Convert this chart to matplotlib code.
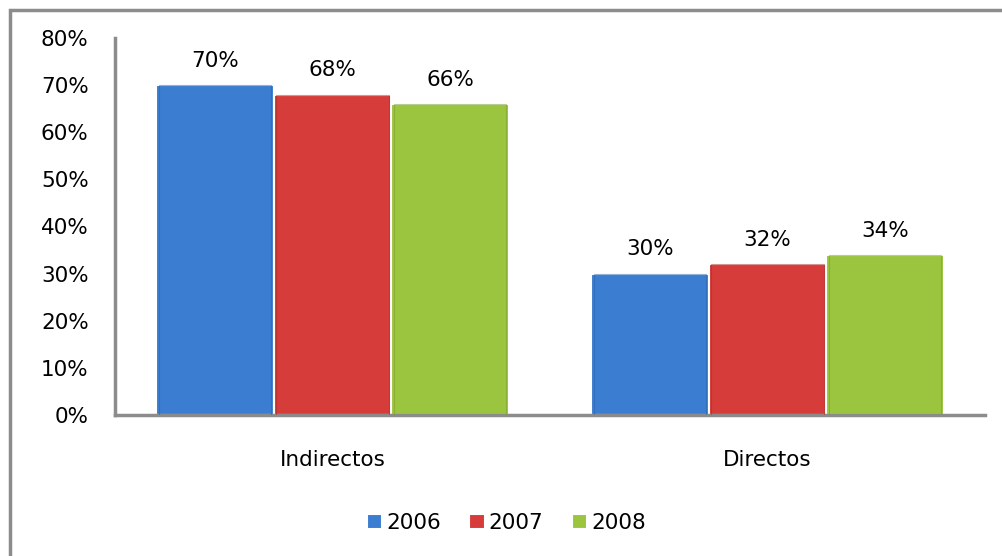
import matplotlib
matplotlib.use('Agg')
from matplotlib import pyplot as plt
from matplotlib.patches import Rectangle
import numpy as np

categories = ['Indirectos', 'Directos']
years = ['2006', '2007', '2008']
values = {
    '2006': [70, 30],
    '2007': [68, 32],
    '2008': [66, 34],
}
colors = ['#3b7dd0', '#d63c3a', '#9cc53f']
edge_colors = ['#2c62a8', '#a92a28', '#779a2a']

plt.rcParams['font.family'] = ['DejaVu Sans']

fig = plt.figure(figsize=(10.03, 5.56), dpi=100)
ax = fig.add_axes([0.1147, 0.2536, 0.8673, 0.6781])

# outer chart border
fig.patches.append(Rectangle((0.010, -0.01), 1.0, 0.992, transform=fig.transFigure,
                             fill=False, edgecolor='#8c8c8c', linewidth=2.5))

x = np.arange(len(categories))
width = 0.27
fs = 15.5
for i, yr in enumerate(years):
    pos = x + (i - 1) * width
    ax.bar(pos, values[yr], width, color=colors[i], edgecolor='white',
           linewidth=1.5, label=yr, zorder=2)
    # darker inner edge for a bevel look
    ax.bar(pos, values[yr], width * 0.96, color='none', edgecolor=edge_colors[i],
           linewidth=0.8, alpha=0.5, zorder=3)
    for p, v in zip(pos, values[yr]):
        ax.text(p, v + 3.0, f'{v}%', ha='center', va='bottom', fontsize=fs)

ax.set_xlim(-0.5, 1.5)
ax.set_ylim(0, 80)
ax.set_yticks(range(0, 81, 10))
ax.set_yticklabels([f'{t}%' for t in range(0, 81, 10)], fontsize=fs)
ax.set_xticks(x)
ax.set_xticklabels(categories, fontsize=fs)
ax.tick_params(axis='y', length=0, pad=19)
ax.tick_params(axis='x', length=0, pad=25)

for s in ['top', 'right']:
    ax.spines[s].set_visible(False)
ax.spines['left'].set_color('#8c8c8c')
ax.spines['bottom'].set_color('#8c8c8c')
ax.spines['left'].set_linewidth(2.5)
ax.spines['bottom'].set_linewidth(2.5)

fig.legend(*ax.get_legend_handles_labels(), loc='center', bbox_to_anchor=(0.505, 0.059),
           ncol=3, frameon=False, fontsize=fs, handlelength=0.7, handleheight=0.7,
           handletextpad=0.2, columnspacing=1.3)

plt.savefig('out.png', dpi=100)
